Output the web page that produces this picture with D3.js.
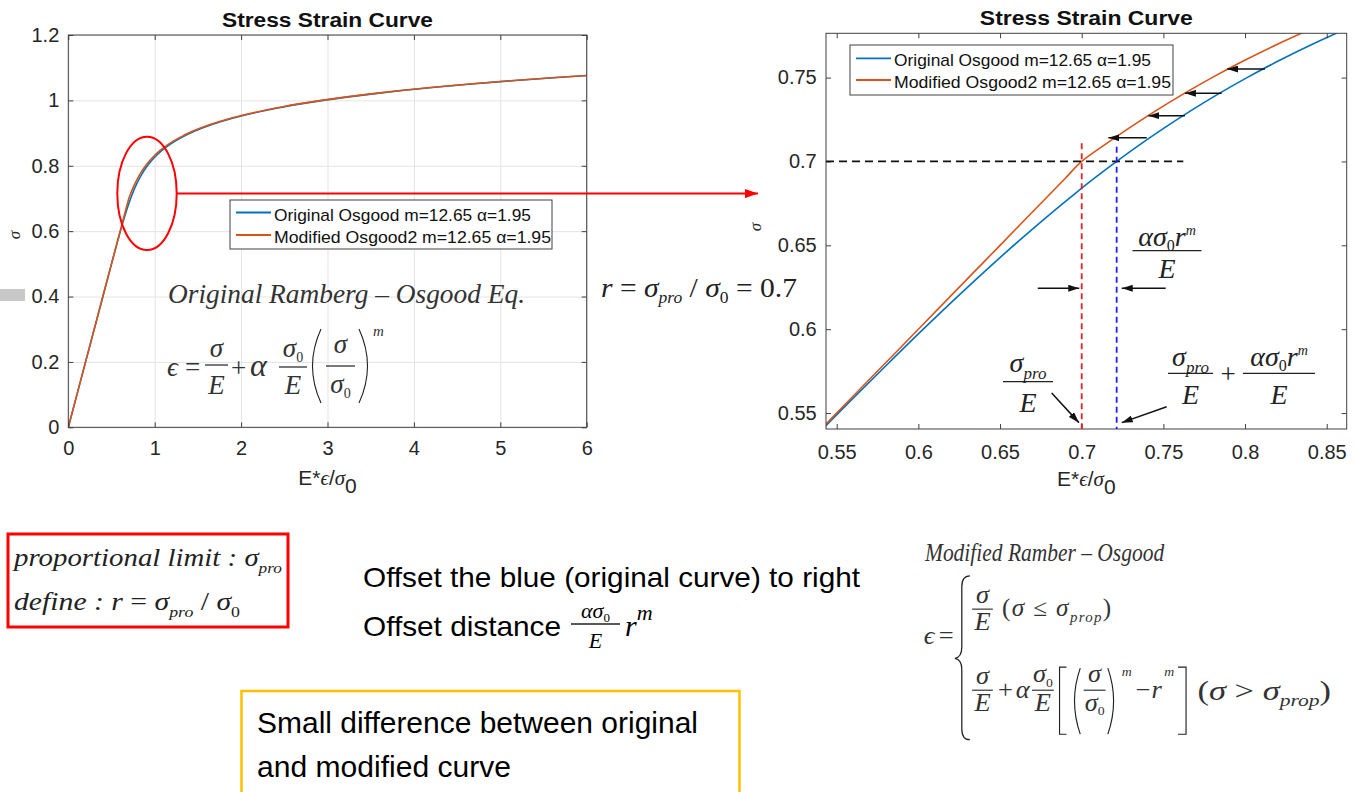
<!DOCTYPE html>
<html><head><meta charset="utf-8">
<script src="https://cdn.jsdelivr.net/npm/d3@7"></script>
<style>body{margin:0;background:#fff;} svg{display:block;} text{white-space:pre;}</style>
</head><body>
<svg id="c" width="1354" height="792"></svg>
<script>
// ---------------- data ----------------
const stress = [0, 0.1, 0.2, 0.3, 0.4, 0.5, 0.54, 0.56, 0.58, 0.6, 0.62, 0.64, 0.66, 0.68, 0.69, 0.7,
  0.71, 0.72, 0.73, 0.74, 0.75, 0.76, 0.77, 0.78, 0.79, 0.8, 0.81, 0.82, 0.83, 0.84, 0.85, 0.86, 0.87,
  0.88, 0.89, 0.9, 0.91, 0.92, 0.93, 0.94, 0.95, 0.96, 0.97, 0.98, 0.99, 1.0, 1.01, 1.02, 1.03, 1.04,
  1.05, 1.06, 1.07, 1.08];
const strainOriginal = [0, 0.1, 0.2, 0.3, 0.4, 0.5003, 0.5408, 0.5613, 0.5820, 0.6030, 0.6246, 0.6469,
  0.6702, 0.6948, 0.7078, 0.7214, 0.7356, 0.7506, 0.7664, 0.7832, 0.8012, 0.8206, 0.8415, 0.8642, 0.8889,
  0.9159, 0.9456, 0.9784, 1.0147, 1.0548, 1.0995, 1.1493, 1.2049, 1.2670, 1.3365, 1.4143, 1.5014, 1.5991,
  1.7087, 1.8315, 1.9692, 2.1236, 2.2965, 2.4902, 2.7072, 2.95, 3.2216, 3.5251, 3.8642, 4.2426, 4.6647,
  5.1351, 5.6589, 6.2424];
const strainModified = [0, 0.1, 0.2, 0.3, 0.4, 0.5, 0.54, 0.56, 0.58, 0.6, 0.62, 0.64, 0.66, 0.68, 0.69,
  0.7, 0.7142, 0.7292, 0.7450, 0.7618, 0.7798, 0.7992, 0.8201, 0.8428, 0.8675, 0.8945, 0.9242, 0.9570,
  0.9933, 1.0334, 1.0781, 1.1279, 1.1835, 1.2456, 1.3151, 1.3929, 1.4800, 1.5777, 1.6873, 1.8101, 1.9478,
  2.1022, 2.2751, 2.4688, 2.6858, 2.9286, 3.2002, 3.5037, 3.8428, 4.2212, 4.6433, 5.1137, 5.6375, 6.2210];
const seriesNames = ['Original Osgood m=12.65 \u03b1=1.95', 'Modified Osgood2 m=12.65 \u03b1=1.95'];
const seriesColors = ['#0072BD', '#D95319'];
const chartTitle = 'Stress Strain Curve';

const leftXTicks = [0, 1, 2, 3, 4, 5, 6];
const leftXLabels = ['0', '1', '2', '3', '4', '5', '6'];
const leftYTicks = [0, 0.2, 0.4, 0.6, 0.8, 1, 1.2];
const leftYLabels = ['0', '0.2', '0.4', '0.6', '0.8', '1', '1.2'];
const rightXTicks = [0.55, 0.6, 0.65, 0.7, 0.75, 0.8, 0.85];
const rightXLabels = ['0.55', '0.6', '0.65', '0.7', '0.75', '0.8', '0.85'];
const rightYTicks = [0.55, 0.6, 0.65, 0.7, 0.75];
const rightYLabels = ['0.55', '0.6', '0.65', '0.7', '0.75'];

const propLimit = 0.7;       // sigma_pro / sigma_0
const offsetStrain = 0.7214; // sigma_pro/E + alpha sigma0 r^m / E
const hDashEnd = 0.7622;
const vDashTopRed = 0.7108, vDashTopBlue = 0.7088;
// shift arrows (blue -> orange)
const shiftSigma = [0.7141, 0.7273, 0.7406, 0.7551];
const shiftFrom = [0.7398, 0.7632, 0.7857, 0.8122];
const shiftTo = [0.7163, 0.7408, 0.7632, 0.7891];
// annotation arrows [x1, s1, x2, s2]
const annArrows = [[0.6731, 0.6244, 0.6985, 0.6244], [0.7514, 0.6244, 0.7245, 0.6244],
  [0.6816, 0.5620, 0.6983, 0.5443], [0.7520, 0.5538, 0.7245, 0.5443]];

// ---------------- helpers ----------------
const SANS = "'Liberation Sans', Arial, sans-serif";
const SERIF = "'Liberation Serif', 'Times New Roman', serif";
const INK = '#222';
const AX = '#404040';
const svg = d3.select('#c');
svg.append('rect').attr('width', 1354).attr('height', 792).attr('fill', '#fff');

const defs = svg.append('defs');
function marker(id, color, w, h) {
  defs.append('marker').attr('id', id).attr('markerUnits', 'userSpaceOnUse')
    .attr('markerWidth', w).attr('markerHeight', h).attr('refX', w).attr('refY', h / 2)
    .attr('orient', 'auto')
    .append('path').attr('d', `M0,0 L${w},${h / 2} L0,${h} Z`).attr('fill', color);
}
marker('ahBlack', '#111', 11, 7);
marker('ahRed', '#f00', 13, 9);

function rich(parent, x, y, parts, o = {}) {
  const t = parent.append('text').attr('x', x).attr('y', y)
    .attr('font-family', o.family || SERIF).attr('font-size', o.size || 24)
    .attr('fill', o.fill || INK).attr('text-anchor', o.anchor || 'start')
    .attr('font-style', o.italic === false ? 'normal' : 'italic')
    .attr('font-weight', o.weight || 'normal');
  let cur = 0;
  parts.forEach(p => {
    if (typeof p === 'string') p = { t: p };
    const s = p.s || 0;
    const ts = t.append('tspan').text(p.t);
    if (s !== cur) ts.attr('dy', s - cur);
    cur = s;
    if (p.fs) ts.attr('font-size', p.fs);
    if (p.up) ts.attr('font-style', 'normal');
    if (p.it) ts.attr('font-style', 'italic');
    if (p.fam) ts.attr('font-family', p.fam);
  });
  if (o.len) t.attr('textLength', o.len).attr('lengthAdjust', o.adjust || 'spacingAndGlyphs');
  return t;
}
function hline(parent, x1, x2, y, w = 1.2, c = INK) {
  parent.append('line').attr('x1', x1).attr('x2', x2).attr('y1', y).attr('y2', y)
    .attr('stroke', c).attr('stroke-width', w);
}
function frac(parent, cx, ly, w, num, den, o) {
  rich(parent, cx, ly - o.nOff, num, Object.assign({}, o, { anchor: 'middle' }));
  hline(parent, cx - w / 2, cx + w / 2, ly, o.lw || 1.2);
  rich(parent, cx, ly + o.dOff, den, Object.assign({}, o, { anchor: 'middle' }));
}
function pathD(parent, d, w = 1.2) {
  parent.append('path').attr('d', d).attr('fill', 'none').attr('stroke', INK).attr('stroke-width', w);
}

const pts = (xs) => stress.map((s, i) => ({ x: xs[i], s }));
const seriesData = [pts(strainOriginal), pts(strainModified)];

function drawChart(cfg) {
  const { x0, x1, y0, y1 } = cfg.box;
  const x = d3.scaleLinear().domain(cfg.xDom).range([x0, x1]);
  const y = d3.scaleLinear().domain(cfg.yDom).range([y0, y1]);
  const g = svg.append('g');
  const clipId = 'clip' + cfg.id;
  defs.append('clipPath').attr('id', clipId).append('rect')
    .attr('x', x0).attr('y', y1).attr('width', x1 - x0).attr('height', y0 - y1);

  if (cfg.grid) {
    const gx = g.append('g').attr('transform', `translate(0,${y0})`)
      .call(d3.axisBottom(x).tickValues(cfg.xTicks).tickSize(-(y0 - y1)).tickFormat(''));
    const gy = g.append('g').attr('transform', `translate(${x0},0)`)
      .call(d3.axisLeft(y).tickValues(cfg.yTicks).tickSize(-(x1 - x0)).tickFormat(''));
    [gx, gy].forEach(a => { a.select('.domain').remove(); a.selectAll('line').attr('stroke', '#e3e3e3').attr('stroke-width', 1); });
  }
  const line = d3.line().x(d => x(d.x)).y(d => y(d.s)).curve(d3.curveMonotoneY);
  const cg = g.append('g').attr('clip-path', `url(#${clipId})`);
  seriesData.forEach((data, i) => {
    cg.append('path').datum(data).attr('d', line).attr('fill', 'none')
      .attr('stroke', seriesColors[i]).attr('stroke-width', 1.6);
  });
  // box
  g.append('rect').attr('x', x0).attr('y', y1).attr('width', x1 - x0).attr('height', y0 - y1)
    .attr('fill', 'none').attr('stroke', AX).attr('stroke-width', 1);
  const fx = (v) => cfg.xLabels[cfg.xTicks.indexOf(v)];
  const fy = (v) => cfg.yLabels[cfg.yTicks.indexOf(v)];
  const axes = [
    g.append('g').attr('transform', `translate(0,${y0})`).call(d3.axisBottom(x).tickValues(cfg.xTicks).tickSizeInner(-5).tickSizeOuter(0).tickPadding(cfg.xPad).tickFormat(fx)),
    g.append('g').attr('transform', `translate(${x0},0)`).call(d3.axisLeft(y).tickValues(cfg.yTicks).tickSizeInner(-5).tickSizeOuter(0).tickPadding(cfg.yPad).tickFormat(fy)),
    g.append('g').attr('transform', `translate(0,${y1})`).call(d3.axisTop(x).tickValues(cfg.xTicks).tickSizeInner(-5).tickSizeOuter(0).tickFormat('')),
    g.append('g').attr('transform', `translate(${x1},0)`).call(d3.axisRight(y).tickValues(cfg.yTicks).tickSizeInner(-5).tickSizeOuter(0).tickFormat(''))
  ];
  axes.forEach(a => {
    a.select('.domain').remove();
    a.selectAll('line').attr('stroke', AX);
    a.selectAll('text').attr('fill', '#262626').attr('font-family', SANS).attr('font-size', 20);
  });
  // title
  rich(g, (x0 + x1) / 2, cfg.titleY, [chartTitle], { family: SANS, italic: false, weight: 'bold', size: 20, anchor: 'middle', len: cfg.titleLen, fill: '#111' });
  // axis labels
  rich(g, (x0 + x1) / 2, cfg.xLabY, [{ t: 'E*', up: true, fam: SANS }, { t: '\u03f5' }, { t: '/', up: true, fam: SANS }, { t: '\u03c3' }, { t: '0', up: true, fam: SANS, s: 8 }],
    { family: SERIF, size: 21, anchor: 'middle', fill: '#262626' });
  g.append('text').attr('transform', `translate(${cfg.yLab[0]},${cfg.yLab[1]}) rotate(-90)`)
    .attr('text-anchor', 'middle').attr('font-family', SERIF).attr('font-style', 'italic')
    .attr('font-size', 17).attr('fill', '#262626').text('\u03c3');
  // legend
  const L = cfg.legend;
  g.append('rect').attr('x', L.x).attr('y', L.y).attr('width', L.w).attr('height', L.h)
    .attr('fill', '#fff').attr('stroke', AX).attr('stroke-width', 1);
  seriesNames.forEach((name, i) => {
    const ly = L.y + L.rows[i];
    g.append('line').attr('x1', L.x + 6).attr('x2', L.x + 41).attr('y1', ly).attr('y2', ly)
      .attr('stroke', seriesColors[i]).attr('stroke-width', 1.8);
    rich(g, L.x + 44, ly + 8, [name], { family: SANS, italic: false, size: 17, fill: '#111', len: L.len[i] });
  });
  return { x, y, g };
}

// ---------------- left chart ----------------
const left = drawChart({
  id: 'L', box: { x0: 68.3, x1: 586.7, y0: 427.3, y1: 35 }, xDom: [0, 6], yDom: [0, 1.2],
  xTicks: leftXTicks, xLabels: leftXLabels, yTicks: leftYTicks, yLabels: leftYLabels,
  grid: true, xPad: 14, yPad: 9, titleY: 26.7, titleLen: 211, xLabY: 485, yLab: [20, 235],
  legend: { x: 230, y: 200, w: 322, h: 49, rows: [12.5, 35], len: [257, 277] }
});

// ---------------- right chart ----------------
const right = drawChart({
  id: 'R', box: { x0: 826, x1: 1346.7, y0: 429, y1: 33.3 }, xDom: [0.54345, 0.86223], yDom: [0.5405, 0.7764],
  xTicks: rightXTicks, xLabels: rightXLabels, yTicks: rightYTicks, yLabels: rightYLabels,
  grid: false, xPad: 16, yPad: 9.3, titleY: 25, titleLen: 213, xLabY: 486, yLab: [761, 227],
  legend: { x: 850, y: 45, w: 323, h: 50, rows: [13.3, 35], len: [257, 277] }
});

// right chart reference lines and arrows
(function () {
  const { x, y, g } = right;
  g.append('line').attr('x1', x.range()[0]).attr('x2', x(hDashEnd)).attr('y1', y(propLimit)).attr('y2', y(propLimit))
    .attr('stroke', '#111').attr('stroke-width', 1.8).attr('stroke-dasharray', '8,5');
  g.append('line').attr('x1', x(propLimit)).attr('x2', x(propLimit)).attr('y1', y(vDashTopRed)).attr('y2', y.range()[0])
    .attr('stroke', '#e8202a').attr('stroke-width', 1.8).attr('stroke-dasharray', '6,4');
  g.append('line').attr('x1', x(offsetStrain)).attr('x2', x(offsetStrain)).attr('y1', y(vDashTopBlue)).attr('y2', y.range()[0])
    .attr('stroke', '#2020f0').attr('stroke-width', 1.8).attr('stroke-dasharray', '6,4');
  shiftSigma.forEach((s, i) => {
    g.append('line').attr('x1', x(shiftFrom[i])).attr('x2', x(shiftTo[i])).attr('y1', y(s)).attr('y2', y(s))
      .attr('stroke', '#111').attr('stroke-width', 1.5).attr('marker-end', 'url(#ahBlack)');
  });
  annArrows.forEach(a => {
    g.append('line').attr('x1', x(a[0])).attr('y1', y(a[1])).attr('x2', x(a[2])).attr('y2', y(a[3]))
      .attr('stroke', '#111').attr('stroke-width', 1.5).attr('marker-end', 'url(#ahBlack)');
  });
  const o = { size: 28, nOff: 5, dOff: 27 };
  // alpha sigma0 r^m / E
  const numA = [{ t: '\u03b1\u03c3' }, { t: '0', up: true, fs: 16, s: 5 }, { t: 'r', s: 0 }, { t: 'm', fs: 14, s: -11 }];
  frac(g, 1167, 250.7, 69, numA, ['E'], o);
  frac(g, 1028, 381.7, 50, [{ t: '\u03c3' }, { t: 'pro', fs: 17, s: 7 }], ['E'], { size: 28, nOff: 10, dOff: 30 });
  frac(g, 1190.5, 373.3, 45, [{ t: '\u03c3' }, { t: 'pro', fs: 17, s: 7 }], ['E'], { size: 28, nOff: 7, dOff: 31 });
  rich(g, 1228, 383, ['+'], { size: 27, italic: false, anchor: 'middle' });
  frac(g, 1279, 373.3, 72, numA, ['E'], { size: 28, nOff: 7, dOff: 31 });
})();

// ---------------- left chart annotations ----------------
(function () {
  const g = svg.append('g');
  g.append('ellipse').attr('cx', 147).attr('cy', 193.4).attr('rx', 29.7).attr('ry', 56.6)
    .attr('fill', 'none').attr('stroke', '#f00').attr('stroke-width', 2);
  g.append('line').attr('x1', 176.7).attr('x2', 758).attr('y1', 193.6).attr('y2', 193.6)
    .attr('stroke', '#f00').attr('stroke-width', 2).attr('marker-end', 'url(#ahRed)');
  rich(g, 168, 303, ['Original Ramberg \u2013 Osgood Eq.'], { size: 27, len: 357, fill: '#333' });
  const o = { size: 27, fill: '#333' };
  rich(g, 167, 376, ['\u03f5'], o);
  rich(g, 185, 376, ['='], Object.assign({}, o, { italic: false }));
  frac(svg, 216.5, 365, 23, ['\u03c3'], ['E'], { size: 27, nOff: 8, dOff: 29, fill: '#333' });
  rich(g, 238.5, 377, ['+'], Object.assign({}, o, { italic: false, anchor: 'middle' }));
  rich(g, 250, 376, ['\u03b1'], { size: 32, fill: '#333' });
  frac(svg, 293, 367, 28, [{ t: '\u03c3' }, { t: '0', up: true, fs: 14, s: 5 }], ['E'], { size: 27, nOff: 10, dOff: 27, fill: '#333' });
  pathD(g, 'M 321 329 Q 304 366 321 403', 1.1);
  frac(svg, 340.5, 366, 29, ['\u03c3'], [{ t: '\u03c3' }, { t: '0', up: true, fs: 14, s: 5 }], { size: 27, nOff: 13, dOff: 27, fill: '#333' });
  pathD(g, 'M 359 329 Q 376 366 359 403', 1.1);
  rich(g, 373, 336, ['m'], { size: 15, fill: '#333' });
  // gray marker at far left
  g.append('rect').attr('x', 0).attr('y', 289).attr('width', 25).attr('height', 12).attr('fill', '#c8c8c8');
  // r = sigma_pro / sigma_0 = 0.7
  rich(g, 601, 297, [{ t: 'r ' }, { t: '= ', up: true }, { t: '\u03c3' }, { t: 'pro', fs: 16, s: 6 },
    { t: ' / ', up: true, s: 0 }, { t: '\u03c3' }, { t: '0', up: true, fs: 16, s: 6 }, { t: ' = 0.7', up: true, s: 0 }],
    { size: 27, len: 196, fill: '#222' });
})();

// ---------------- bottom texts ----------------
(function () {
  const g = svg.append('g');
  g.append('rect').attr('x', 8).attr('y', 534).attr('width', 280).attr('height', 93)
    .attr('fill', 'none').attr('stroke', '#ff0000').attr('stroke-width', 3);
  rich(g, 14, 566, [{ t: 'proportional limit : \u03c3' }, { t: 'pro', fs: 15, s: 7 }], { size: 25, len: 268, fill: '#222' });
  rich(g, 14, 610, [{ t: 'define : ' }, { t: 'r ' }, { t: '= ', up: true }, { t: '\u03c3' }, { t: 'pro', fs: 15, s: 7 },
    { t: ' / ', up: true, s: 0 }, { t: '\u03c3' }, { t: '0', up: true, fs: 15, s: 7 }], { size: 25, len: 226, fill: '#222' });

  rich(g, 363, 587, ['Offset the blue (original curve) to right'], { family: SANS, italic: false, size: 28, len: 497, fill: '#000' });
  rich(g, 363, 636, ['Offset distance'], { family: SANS, italic: false, size: 28, len: 198, fill: '#000' });
  frac(g, 595.5, 624, 49, [{ t: '\u03b1\u03c3' }, { t: '0', fs: 13, up: true, s: 4 }], ['E'], { size: 22, nOff: 6, dOff: 24, fill: '#000', lw: 1.3 });
  rich(g, 625, 636, [{ t: 'r' }, { t: 'm', fs: 22, s: -16 }], { size: 30, fill: '#000' });

  g.append('rect').attr('x', 241.5).attr('y', 691).attr('width', 498).attr('height', 120)
    .attr('fill', 'none').attr('stroke', '#FFC000').attr('stroke-width', 2.5);
  rich(g, 257, 733, ['Small difference between original'], { family: SANS, italic: false, size: 29, len: 441, fill: '#000' });
  rich(g, 257, 777, ['and modified curve'], { family: SANS, italic: false, size: 29, len: 254, fill: '#000' });

  // Modified Ramberg-Osgood piecewise definition (block scaled slightly)
  const m = g.append('g').attr('transform', 'translate(925,545) scale(1.15,1.1) translate(-925,-545)');
  rich(m, 925, 560, ['Modified Ramber \u2013 Osgood'], { size: 22, len: 208, fill: '#333' });
  const o = { size: 23, fill: '#333' };
  rich(m, 924, 635, ['\u03f5'], o);
  rich(m, 937, 635, ['='], Object.assign({}, o, { italic: false }));
  pathD(m, 'M 964 573 Q 957 573 957 583 L 957 638 Q 957 647 951 648 Q 957 649 957 658 L 957 712 Q 957 722 964 722', 1.1);
  frac(m, 975, 603.3, 18, ['\u03c3'], ['E'], { size: 23, nOff: 6, dOff: 19, fill: '#333', lw: 1 });
  rich(m, 992, 610, [{ t: '(', up: true }, { t: '\u03c3 ' }, { t: '\u2264 ', up: true }, { t: '\u03c3' }, { t: 'prop', fs: 13, s: 5 }, { t: ')', up: true, s: 0 }],
    { size: 22, len: 95, adjust: 'spacing', fill: '#333' });
  frac(m, 975, 677, 18, ['\u03c3'], ['E'], { size: 23, nOff: 6, dOff: 19, fill: '#333', lw: 1 });
  rich(m, 995, 684, ['+'], Object.assign({}, o, { italic: false, anchor: 'middle' }));
  rich(m, 1004, 684, ['\u03b1'], o);
  frac(m, 1027.5, 677, 19, [{ t: '\u03c3' }, { t: '0', up: true, fs: 12, s: 4 }], ['E'], { size: 23, nOff: 7, dOff: 19, fill: '#333', lw: 1 });
  pathD(m, 'M 1048 656 L 1042 656 L 1042 717 L 1048 717', 1);
  pathD(m, 'M 1060 657 Q 1050 687 1060 717', 1);
  frac(m, 1072.5, 677, 19, ['\u03c3'], [{ t: '\u03c3' }, { t: '0', up: true, fs: 12, s: 4 }], { size: 23, nOff: 7, dOff: 19, fill: '#333', lw: 1 });
  pathD(m, 'M 1084 657 Q 1094 687 1084 717', 1);
  rich(m, 1096, 664, ['m'], { size: 12, fill: '#333' });
  rich(m, 1108, 684, [{ t: '\u2212', up: true }], o);
  rich(m, 1122, 684, ['r'], o);
  rich(m, 1133, 664, ['m'], { size: 12, fill: '#333' });
  pathD(m, 'M 1145 656 L 1152 656 L 1152 717 L 1145 717', 1);
  rich(m, 1162, 686, [{ t: '(', up: true }, { t: '\u03c3 ' }, { t: '> ', up: true }, { t: '\u03c3' }, { t: 'prop', fs: 15, s: 5 }, { t: ')', up: true, s: 0 }],
    { size: 24, len: 116, fill: '#333' });
})();
</script>
</body></html>
